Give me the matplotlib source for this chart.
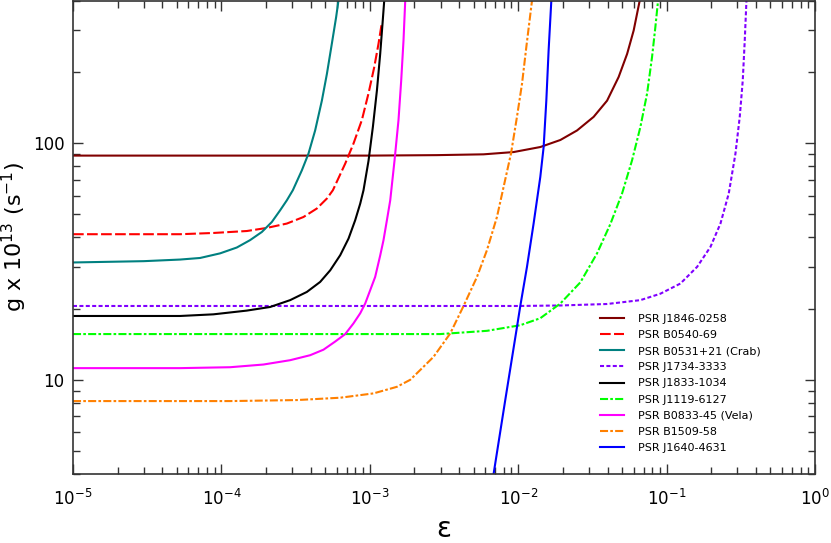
import matplotlib
matplotlib.use('Agg')
import matplotlib.pyplot as plt
from matplotlib.ticker import LogLocator, NullFormatter, FixedLocator

plt.rcParams['font.family'] = 'DejaVu Sans'
plt.rcParams['lines.scale_dashes'] = False

# values (eps, g x 1e13 in s^-1)
eps_j1846 = [1e-5, 1e-3, 2.83e-3, 5.84e-3, 9.31e-3, 1.409e-2, 1.923e-2, 2.491e-2, 3.224e-2, 3.971e-2,
             4.75e-2, 5.42e-2, 6.0e-2, 6.59e-2]
g_j1846 = [88.5, 88.5, 88.9, 89.6, 91.6, 96.2, 103, 113, 129, 151, 190, 238, 299, 400]

eps_b0540 = [1e-5, 5.265e-5, 8.834e-5, 1.484e-4, 2.023e-4, 2.761e-4, 3.572e-4, 4.397e-4, 5.14e-4, 5.64e-4,
             6.83e-4, 7.76e-4, 8.84e-4, 9.8e-4, 1.071e-3, 1.145e-3, 1.207e-3]
g_b0540 = [41.2, 41.2, 41.7, 42.5, 43.8, 45.7, 48.7, 52.9, 58.3, 63.2, 81.9, 99.4, 125, 162, 209, 263, 324]

eps_crab = [1e-5, 3e-5, 5.265e-5, 7.186e-5, 9.8e-5, 1.27e-4, 1.561e-4, 1.873e-4, 2.187e-4, 2.488e-4,
            2.761e-4, 3.03e-4, 3.485e-4, 3.861e-4, 4.282e-4, 4.753e-4, 5.14e-4, 5.55e-4, 5.93e-4, 6.15e-4]
g_crab = [31.3, 31.7, 32.2, 32.7, 34.2, 36.2, 38.9, 42.1, 46.4, 52.0, 57.3, 63.2, 76.7, 90.2, 113, 151,
          196, 263, 340, 400]

eps_j1734 = [1e-5, 1e-2, 1.923e-2, 3.971e-2, 6.66e-2, 9.08e-2, 0.1239, 0.1606, 0.1974, 0.2306, 0.2623,
             0.2910, 0.3111, 0.3260, 0.3362, 0.3452]
g_j1734 = [20.5, 20.5, 20.6, 20.9, 21.7, 23.1, 25.5, 30.0, 36.4, 45.7, 61.2, 90.2, 129, 184, 271, 400]

eps_j1833 = [1e-5, 5.265e-5, 8.834e-5, 1.484e-4, 2.13e-4, 2.906e-4, 3.766e-4, 4.628e-4, 5.41e-4, 6.32e-4,
             7.19e-4, 7.97e-4, 8.62e-4, 9.07e-4, 9.8e-4, 1.049e-3, 1.117e-3, 1.175e-3, 1.218e-3, 1.251e-3]
g_j1833 = [18.6, 18.6, 18.9, 19.6, 20.3, 21.7, 23.5, 25.9, 29.0, 33.6, 39.5, 47.2, 55.5, 63.2, 84, 117,
           167, 238, 319, 400]

eps_j1119 = [1e-5, 1e-3, 2.983e-3, 6.16e-3, 1.033e-2, 1.409e-2, 1.923e-2, 2.623e-2, 3.399e-2, 4.18e-2,
             5.01e-2, 5.85e-2, 6.66e-2, 7.39e-2, 7.98e-2, 8.40e-2, 8.76e-2]
g_j1119 = [15.6, 15.6, 15.6, 16.1, 17.0, 18.2, 21.0, 25.8, 34.2, 45.5, 61.2, 84.5, 117, 162, 231, 309, 400]

eps_vela = [1e-5, 5.265e-5, 1.145e-4, 1.919e-4, 2.906e-4, 3.963e-4, 4.872e-4, 5.84e-4, 6.83e-4, 7.76e-4,
            8.62e-4, 9.31e-4, 1.006e-3, 1.087e-3, 1.175e-3, 1.237e-3, 1.304e-3, 1.373e-3, 1.468e-3,
            1.561e-3, 1.628e-3, 1.687e-3, 1.733e-3]
g_vela = [11.2, 11.2, 11.3, 11.6, 12.1, 12.7, 13.4, 14.5, 15.6, 17.3, 19.1, 21.0, 23.9, 27.2, 33.5, 38.9,
          47.2, 57.3, 84.5, 125, 184, 271, 400]

eps_b1509 = [1e-5, 1.145e-4, 3.225e-4, 6.32e-4, 1.059e-3, 1.523e-3, 1.873e-3, 2.187e-3, 2.688e-3, 3.485e-3,
             4.283e-3, 5.276e-3, 6.16e-3, 7.19e-3, 7.97e-3, 8.94e-3, 9.81e-3, 1.061e-2, 1.134e-2, 1.239e-2]
g_b1509 = [8.13, 8.13, 8.21, 8.40, 8.76, 9.34, 10.0, 11.0, 12.5, 15.7, 20.5, 27.2, 35.3, 48.7, 65.2, 90.2,
           129, 178, 254, 400]

eps_j1640 = [6.825e-3, 8.18e-3, 9.81e-3, 1.033e-2, 1.146e-2, 1.270e-2, 1.409e-2, 1.484e-2, 1.547e-2,
             1.603e-2, 1.672e-2]
g_j1640 = [4.0, 8.21, 16.7, 20.5, 30.0, 45.7, 71.9, 96.2, 151, 246, 400]

x_ticks = [1e-5, 1e-4, 1e-3, 1e-2, 1e-1, 1e0]
x_ticklabels = [r'$\mathregular{10^{-5}}$', r'$\mathregular{10^{-4}}$', r'$\mathregular{10^{-3}}$',
                r'$\mathregular{10^{-2}}$', r'$\mathregular{10^{-1}}$', r'$\mathregular{10^{0}}$']

series = [
    ('PSR J1846-0258', eps_j1846, g_j1846, '#800000', None),
    ('PSR B0540-69', eps_b0540, g_b0540, '#FF0000', (0, (7.7, 2.4))),
    ('PSR B0531+21 (Crab)', eps_crab, g_crab, '#008080', None),
    ('PSR J1734-3333', eps_j1734, g_j1734, '#8000FF', (0, (2.9, 1.7))),
    ('PSR J1833-1034', eps_j1833, g_j1833, '#000000', None),
    ('PSR J1119-6127', eps_j1119, g_j1119, '#00FF00', (0, (5.8, 1.6, 1.9, 1.6))),
    ('PSR B0833-45 (Vela)', eps_vela, g_vela, '#FF00FF', None),
    ('PSR B1509-58', eps_b1509, g_b1509, '#FF8000', (0, (5.8, 1.6, 1.9, 1.6))),
    ('PSR J1640-4631', eps_j1640, g_j1640, '#0000FF', None),
]

fig = plt.figure(figsize=(8.31, 5.43), dpi=100)
ax = fig.add_axes([73 / 831, 69 / 543, 742 / 831, 473.5 / 543])

for name, xs, ys, col, ls in series:
    ax.plot(xs, ys, color=col, lw=1.5, linestyle=ls if ls else '-', label=name)

ax.set_xscale('log')
ax.set_yscale('log')
ax.set_xlim(1e-5, 1)
ax.set_ylim(4, 400)

ax.xaxis.set_major_locator(FixedLocator(x_ticks))
ax.set_xticklabels(x_ticklabels)
ax.xaxis.set_minor_locator(LogLocator(base=10, subs=range(2, 10), numticks=20))
ax.xaxis.set_minor_formatter(NullFormatter())
ax.yaxis.set_major_locator(FixedLocator([10, 100]))
ax.set_yticklabels(['10', '100'])
ax.yaxis.set_minor_locator(LogLocator(base=10, subs=range(2, 10), numticks=20))
ax.yaxis.set_minor_formatter(NullFormatter())

spine_col = '#333333'
for sp in ax.spines.values():
    sp.set_color(spine_col)
    sp.set_linewidth(1.2)
ax.tick_params(which='both', direction='in', top=True, right=True, color=spine_col, width=1.0)
ax.tick_params(which='major', length=7.5, labelsize=12, pad=11)
ax.tick_params(which='minor', length=4.8)
ax.tick_params(axis='y', which='major', pad=6)

ax.set_xlabel('ε', fontsize=20, labelpad=4)
ax.set_ylabel(r'g x 10$\mathregular{^{13}}$ (s$\mathregular{^{-1}}$)', fontsize=16)
ax.yaxis.set_label_coords(-0.059, 0.5)

ax.legend(loc='upper left', bbox_to_anchor=(0.71, 0.338), frameon=False, fontsize=8,
          borderpad=0, borderaxespad=0, handlelength=2.15, handletextpad=1.25, labelspacing=0.55)

fig.savefig('out.png', dpi=100)
